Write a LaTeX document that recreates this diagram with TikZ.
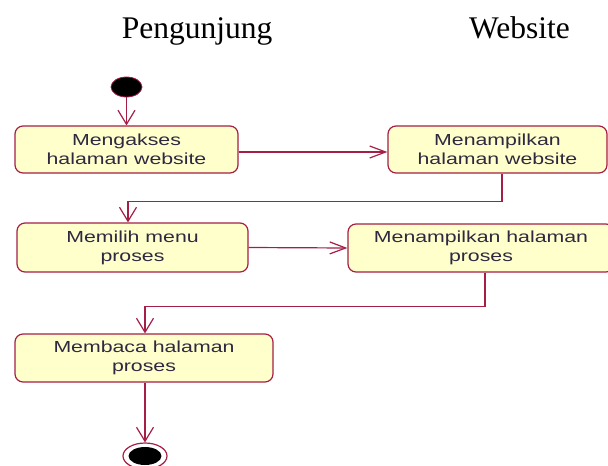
\documentclass[tikz,border=0pt]{standalone}
\usepackage{fontspec}
\setmainfont{Liberation Serif}
\newfontfamily\boxfont[FakeStretch=1.33]{Liberation Sans}
\usetikzlibrary{arrows.meta,shapes.geometric}
\definecolor{umlred}{RGB}{165,30,70}
\definecolor{umlfill}{RGB}{255,255,204}
\definecolor{umltext}{RGB}{46,40,64}
\tikzset{
  actbox/.style={draw=umlred, fill=umlfill, line width=1.2pt, rounded corners=8pt,
    inner sep=0pt, align=center, font=\boxfont\fontsize{16}{19}\selectfont, text=umltext},
  flow/.style={draw=umlred, line width=1.2pt},
  varr/.style={flow, -{Straight Barb[length=14pt,width=17pt,line width=1.2pt]}},
  harr/.style={flow, -{Straight Barb[length=16pt,width=12pt,line width=1.2pt]}},
  lane/.style={font=\fontsize{31.5}{36}\selectfont, anchor=base, inner sep=0pt}
}
\begin{document}
\begin{tikzpicture}[x=1pt,y=-1pt]
\useasboundingbox (0,0) rectangle (608,466);
\node[lane] (pengunjung) at (197,38) {Pengunjung};
\node[lane] (website) at (519.5,38) {Website};

\node[ellipse, fill=black, draw=umlred, line width=0.8pt, minimum width=31pt, minimum height=20pt, inner sep=0pt] (start) at (126.5,87) {};

\node[actbox, minimum width=223pt, minimum height=47pt] (b1) at (126.5,149.5) {Mengakses\\halaman website};
\node[actbox, minimum width=219pt, minimum height=47pt] (b2) at (497.5,149.5) {Menampilkan\\halaman website};
\node[actbox, minimum width=231pt, minimum height=49pt] (b3) at (132.5,247.5) {Memilih menu\\proses};
\node[actbox, minimum width=266pt, minimum height=48pt] (b4) at (481,248) {Menampilkan halaman\\proses};
\node[actbox, minimum width=258pt, minimum height=48pt] (b5) at (144,358) {Membaca halaman\\proses};

\node[ellipse, draw=umlred, line width=1.2pt, fill=white, minimum width=44pt, minimum height=26pt, inner sep=0pt] (end) at (145,456) {};
\fill[black] (end.center) ellipse (16.5pt and 9pt);

\draw[varr] (start.south) -- (b1.north);
\draw[harr] ([yshift=-2.5pt]b1.east) -- ([yshift=-2.5pt]b2.west);
\draw[varr] ([xshift=4.5pt]b2.south) -- ++(0,28) -| ([xshift=-4.5pt]b3.north);
\draw[harr] (b3.east) -- (b4.west);
\draw[varr] ([xshift=4pt]b4.south) -- ++(0,34) -| ([xshift=1pt]b5.north);
\draw[varr] ([xshift=1pt]b5.south) -- (end.north);
\end{tikzpicture}
\end{document}
